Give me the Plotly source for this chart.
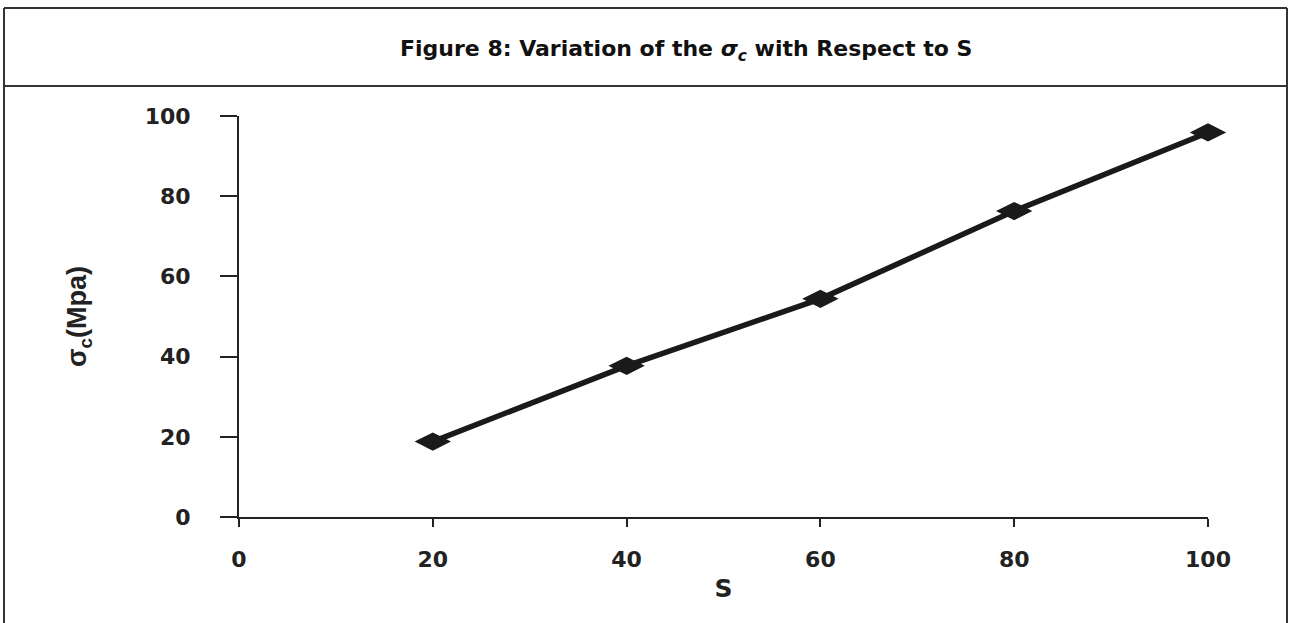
import plotly.graph_objects as go

# Data
s_values = [20, 40, 60, 80, 100]
sigma_c = [18.8, 37.7, 54.4, 76.3, 95.9]
x_ticks = [0, 20, 40, 60, 80, 100]
y_ticks = [0, 20, 40, 60, 80, 100]

W, H = 1290, 623
L, R, T, B = 239, 82, 116, 106
pw, ph = W - L - R, H - T - B

def px_x(p):
    return (p - L) / pw

def px_y(p):
    return (H - B - p) / ph

fig = go.Figure()
fig.add_trace(go.Scatter(
    x=s_values, y=sigma_c, mode="lines+markers",
    line=dict(color="#1a1a1a", width=5.5),
    marker=dict(symbol="diamond-wide", size=26, color="#1a1a1a"),
    showlegend=False, cliponaxis=False,
))

axis_common = dict(
    showgrid=False, zeroline=False, showline=True, linecolor="#222222", linewidth=2,
    ticks="outside", tickcolor="#222222", tickwidth=2,
    tickfont=dict(family="DejaVu Sans", size=22, color="#222222", weight="bold"),
)

fig.update_xaxes(range=[0, 100], tickvals=x_ticks, ticklen=8, ticklabelstandoff=14,
                 title=dict(text="<b>S</b>", font=dict(family="DejaVu Sans", size=25, color="#222222"), standoff=8),
                 **axis_common)
fig.update_yaxes(range=[0, 100], tickvals=y_ticks, ticklen=17, ticklabelstandoff=25,
                 title=dict(text="<b>σ<sub>c</sub>(Mpa)</b>", font=dict(family="Liberation Sans", size=27, color="#222222"), standoff=50),
                 **axis_common)

# Frame: outer box and title separator
bx0, bx1 = px_x(4), px_x(1287)
by_top, by_sep, by_bot = px_y(8), px_y(86), px_y(640)
line_style = dict(color="#333333", width=2)
fig.add_shape(type="line", xref="paper", yref="paper", x0=bx0, x1=bx1, y0=by_top, y1=by_top, line=line_style)
fig.add_shape(type="line", xref="paper", yref="paper", x0=bx0, x1=bx1, y0=by_sep, y1=by_sep, line=line_style)
fig.add_shape(type="line", xref="paper", yref="paper", x0=bx0, x1=bx0, y0=by_top, y1=by_bot, line=line_style)
fig.add_shape(type="line", xref="paper", yref="paper", x0=bx1, x1=bx1, y0=by_top, y1=by_bot, line=line_style)

fig.add_annotation(
    xref="paper", yref="paper", x=px_x(686), y=px_y(50), xanchor="center", yanchor="middle",
    text="<b>Figure 8: Variation of the <i>σ<sub>c</sub></i> with Respect to S</b>",
    showarrow=False, font=dict(family="DejaVu Sans", size=22, color="#111111"),
)

fig.update_layout(
    width=W, height=H, margin=dict(l=L, r=R, t=T, b=B),
    paper_bgcolor="white", plot_bgcolor="white",
)

fig.write_html("out.html", config={"displayModeBar": False},
               post_script="document.body.style.margin='0';document.body.style.overflow='hidden';")
